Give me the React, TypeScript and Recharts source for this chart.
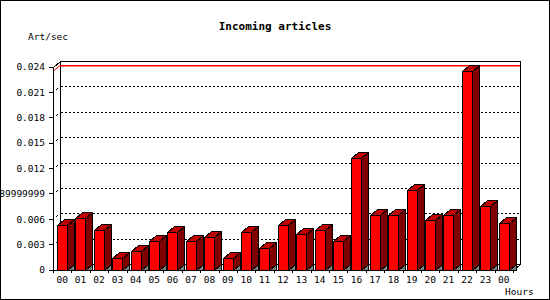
import { BarChart, Bar, XAxis, YAxis, CartesianGrid, ReferenceArea } from "recharts";

const hours = ["00","01","02","03","04","05","06","07","08","09","10","11","12","13","14","15","16","17","18","19","20","21","22","23","00"];
const artPerSec = [0.0053,0.0061,0.00475,0.0014,0.00225,0.00345,0.0045,0.00345,0.0039,0.0014,0.0045,0.0026,0.0053,0.0042,0.0047,0.0034,0.0132,0.0065,0.0065,0.0095,0.0059,0.0065,0.0235,0.0076,0.0055];
const yTicks = [0,0.003,0.006,0.009,0.012,0.015,0.018,0.021,0.024];
const yTickLabels = ["0","0.003","0.006","0.0089999999","0.012","0.015","0.018","0.021","0.024"];

const data = hours.map((h, i) => ({ key: i, hour: h, value: artPerSec[i] }));
const maxValue = Math.max(...artPerSec);

// 3D depth of the bars and back wall
const DX = 7;
const DY = 6;
const FONT = "'DejaVu Sans Mono', monospace";

const Bar3D = (props: any) => {
  const x = Math.round(props.x) + 0.5;
  const y = Math.round(props.y) + 0.5;
  const w = Math.round(props.width);
  const h = Math.round(props.height);
  const r = x + w;
  const b = y + h;
  return (
    <g shapeRendering="crispEdges" stroke="#000" strokeWidth={1}>
      <polygon points={`${r},${b} ${r + DX},${b - DY} ${r + DX},${b}`} fill="#808080" />
      <polygon points={`${r},${y} ${r + DX},${y - DY} ${r + DX},${b - DY} ${r},${b}`} fill="#800000" />
      <polygon points={`${x},${y} ${x + DX},${y - DY} ${r + DX},${y - DY} ${r},${y}`} fill="#c00000" />
      <rect x={x} y={y} width={w} height={h} fill="#ff0000" />
    </g>
  );
};

const Frame = (props: any) => {
  const x = Math.round(props.x) + 0.5;
  const y = Math.round(props.y) + 0.5;
  const w = Math.round(props.width);
  const h = Math.round(props.height);
  return (
    <g shapeRendering="crispEdges" stroke="#000" strokeWidth={1} fill="none">
      <rect x={x + DX} y={y - DY} width={w} height={h} fill="none" />
      <line x1={x} y1={y} x2={x + DX} y2={y - DY} />
      <line x1={x} y1={y + h} x2={x + w} y2={y + h} />
      <line x1={x + w} y1={y + h} x2={x + w + DX} y2={y + h - DY} />
    </g>
  );
};

// red line at the maximum value, drawn on the back wall (bottom edge of the area)
const MaxLine = (props: any) => {
  const xa = Math.round(props.x);
  const xb = Math.round(props.x + props.width);
  const yy = Math.round(props.y + props.height);
  return (
    <g>
      <path d={`M${xa},${yy + 0.5}L${xa + DX},${yy - DY + 0.5}`} stroke="#ff0000" strokeWidth={1} fill="none" />
      <rect x={xa + DX} y={yy - DY} width={xb - xa} height={1.5} fill="#ff0000" stroke="none" />
    </g>
  );
};

const GridLine = (props: any) => {
  const { x1, y1, x2 } = props;
  // skip the floor and the top edge of the back wall
  if (y1 < 70 || y1 > 265) return <g key={props.key} />;
  const yy = Math.round(y1) + 0.5;
  const xa = Math.round(x1) + 0.5;
  const xb = Math.round(x2) + 0.5;
  return (
    <g key={props.key} shapeRendering="crispEdges" stroke="#000" strokeWidth={1}>
      <line x1={xa + DX} y1={yy - DY} x2={xb + DX} y2={yy - DY} strokeDasharray="2 2" />
      <line x1={xa + 2} y1={yy - 2} x2={xa + 4} y2={yy - 4} />
    </g>
  );
};

const XTick = (props: any) => {
  const { x, y, payload, index } = props;
  const off = payload && payload.offset != null ? payload.offset : 9.2;
  const left = Math.round(x - off) + 0.5;
  const right = Math.round(x + off) + 0.5;
  return (
    <g>
      <line x1={left} y1={y - 6} x2={left} y2={y - 3} stroke="#000" shapeRendering="crispEdges" />
      {index === hours.length - 1 && (
        <line x1={right} y1={y - 6} x2={right} y2={y - 3} stroke="#000" shapeRendering="crispEdges" />
      )}
      <text x={x} y={y} dy="0.71em" textAnchor="middle" fontFamily={FONT} fontSize={9.5} fill="#000">
        {hours[payload.value]}
      </text>
    </g>
  );
};

export default function App() {
  return (
    <div style={{ position: "relative", width: 550, height: 300, background: "#fff" }}>
      <style>{"body{margin:0}"}</style>
      <BarChart
        width={550}
        height={300}
        data={data}
        margin={{ top: 67, right: 37, bottom: 0, left: 0 }}
      >
        <ReferenceArea y1={0} y2={0.024} shape={Frame} ifOverflow="visible" />
        <CartesianGrid vertical={false} horizontal={GridLine} />
        <ReferenceArea y1={maxValue} y2={0.024} shape={MaxLine} ifOverflow="visible" />
        <XAxis
          dataKey="key"
          tick={XTick}
          tickLine={false}
          axisLine={false}
          tickSize={4}
          tickMargin={2}
          height={30}
          interval={0}
        />
        <YAxis
          domain={[0, 0.024]}
          ticks={yTicks}
          tickFormatter={(v) => yTickLabels[yTicks.indexOf(v)] ?? String(v)}
          width={53}
          tickSize={4}
          tickMargin={4}
          tick={{ fontFamily: FONT, fontSize: 9.5, fill: "#000" }}
          axisLine={{ stroke: "#000", shapeRendering: "crispEdges" }}
          tickLine={{ stroke: "#000", shapeRendering: "crispEdges" }}
          interval={0}
        />
        <Bar dataKey="value" barSize={10} shape={Bar3D} isAnimationActive={false} />
      </BarChart>
      <div style={{ position: "absolute", left: 0, top: 20, width: 550, textAlign: "center", fontFamily: FONT, fontWeight: "bold", fontSize: 11, lineHeight: "13px" }}>
        Incoming articles
      </div>
      <div style={{ position: "absolute", left: 28, top: 31, fontFamily: FONT, fontSize: 9.5, lineHeight: "12px" }}>
        Art/sec
      </div>
      <div style={{ position: "absolute", left: 505, top: 286, fontFamily: FONT, fontSize: 9.5, lineHeight: "12px" }}>
        Hours
      </div>
      <div style={{ position: "absolute", left: 0, top: 0, width: 550, height: 300, boxSizing: "border-box", border: "1px solid #000", pointerEvents: "none" }} />
    </div>
  );
}
